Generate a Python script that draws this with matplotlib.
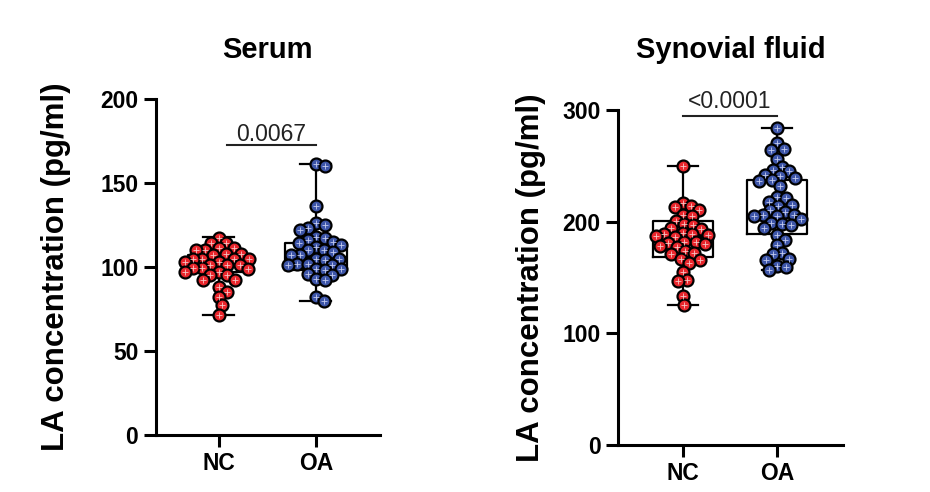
import numpy as np
import matplotlib
matplotlib.use("Agg")
import matplotlib.pyplot as plt

plt.rcParams['font.family'] = ['Liberation Sans', 'DejaVu Sans']

groups = ['NC', 'OA']

# LA concentration (pg/ml)
serum_nc = [117, 114, 114, 111, 111, 110, 110, 108, 108, 107, 105, 105, 105, 105, 103, 103,
            101, 101, 101, 99.6, 99.6, 99, 97.2, 97.2, 95.3, 95.3, 92.3, 92.3, 88, 85.3, 82.4,
            77.4, 71.5]
serum_oa = [161.5, 160, 136, 126, 125, 123, 122, 118, 117, 116, 115, 114, 113, 112, 110, 110,
            109, 107, 107, 105, 105, 104, 102, 102, 101, 101, 99, 99, 98, 96, 95, 93, 92, 82, 80]
sf_nc = [250, 217, 214, 213, 210, 206, 205, 201, 198, 197, 194, 193, 190, 189, 189, 188, 187,
         186, 182, 182, 181, 180, 178, 177, 174, 172, 171, 167, 166, 163, 155, 148, 147, 133, 125]
sf_oa = [284, 270, 265, 264, 256, 249, 246, 245, 242, 241, 239, 237, 236, 232, 222, 221, 218,
         215, 214, 210, 209, 206, 206, 205, 205, 202, 199, 198, 197, 194, 188, 184, 179, 172,
         171, 167, 166, 160, 159, 157]

# box stats (min, q1, median, q3, max) as drawn in the figure
serum_box = [(71.5, 97, 102, 107, 118), (80, 98, 106, 114, 161.5)]
sf_box = [(125, 168, 186, 201, 250), (157, 189, 206, 237, 284)]

serum_p = '0.0067'
sf_p = '<0.0001'

red = '#e8262c'
blue = '#3d55a8'

fig = plt.figure(figsize=(9.3, 4.92), dpi=100)


def swarm_offsets(ax, x0, vals, dist_px):
    # simple beeswarm in pixel space
    pts = ax.transData.transform(np.column_stack([np.full(len(vals), x0), vals]))
    order = np.argsort(vals)[::-1]
    placed = []
    xs = np.zeros(len(vals))
    for i in order:
        py = pts[i, 1]
        cands = [0.0]
        for (qx, qy) in placed:
            dy = py - qy
            if abs(dy) < dist_px:
                dx = np.sqrt(dist_px ** 2 - dy ** 2)
                cands += [qx + dx, qx - dx]
        cands = sorted(cands, key=abs)
        for c in cands:
            ok = True
            for (qx, qy) in placed:
                if (c - qx) ** 2 + (py - qy) ** 2 < dist_px ** 2 - 1e-6:
                    ok = False
                    break
            if ok:
                break
        placed.append((c, py))
        xs[i] = c
    # pixel -> data units
    px_per_x = ax.transData.transform((1, 0))[0] - ax.transData.transform((0, 0))[0]
    return x0 + xs / px_per_x


def panel(rect, xlim, ymax, yticks, data, boxes, p_text, p_x, p_y, p_dy, title, title_y, ylab_x):
    ax = fig.add_axes(rect)
    ax.set_xlim(*xlim)
    ax.set_ylim(0, ymax)
    ax.set_yticks(yticks)
    ax.set_xticks(range(len(groups)))
    ax.set_xticklabels(groups)
    for s in ['top', 'right']:
        ax.spines[s].set_visible(False)
    for s in ['left', 'bottom']:
        ax.spines[s].set_linewidth(2.2)
    ax.tick_params(length=8.5, width=2.2, labelsize=16.5, pad=4)
    for lab in ax.get_xticklabels() + ax.get_yticklabels():
        lab.set_fontweight('bold')

    stats = []
    for b in boxes:
        stats.append(dict(whislo=b[0], q1=b[1], med=b[2], q3=b[3], whishi=b[4], fliers=[]))
    ax.bxp(stats, positions=range(len(groups)), widths=0.64, showfliers=False,
           boxprops=dict(color='black', linewidth=1.6),
           medianprops=dict(color='black', linewidth=1.6),
           whiskerprops=dict(color='black', linewidth=1.6),
           capprops=dict(color='black', linewidth=1.6), capwidths=0.32,
           manage_ticks=False, zorder=2)

    for i, (vals, col, light) in enumerate(zip(data, [red, blue], ['#f6c4c4', '#c3cbef'])):
        xs = swarm_offsets(ax, i, vals, 9.0)
        ax.scatter(xs, vals, s=74, color=col, edgecolor='black', linewidth=1.6, zorder=3)
        ax.scatter(xs, vals, s=14, marker='+', color=light, linewidth=0.6, zorder=4)

    ax.plot(p_x, [p_y, p_y], color='#222222', lw=1.5)
    ax.text(np.mean(p_x), p_y + p_dy, p_text, ha='center', va='baseline',
            fontsize=16.5, color='#222222')

    bb = rect
    fig.text(bb[0] + bb[2] / 2, title_y, title, ha='center', va='baseline',
             fontsize=21, fontweight='bold')
    fig.text(ylab_x, bb[1] + bb[3] / 2, 'LA concentration (pg/ml)', rotation=90,
             ha='center', va='center', fontsize=22.5, fontweight='bold')
    return ax


panel([0.1674, 0.1159, 0.2412, 0.683], (-0.65, 1.66), 200, [0, 50, 100, 150, 200],
      [serum_nc, serum_oa], serum_box, serum_p, [0.08, 1.0], 172.6, 2.4,
      'Serum', 1 - 58 / 492, 56 / 930)
panel([0.6645, 0.0955, 0.242, 0.681], (-0.69, 1.70), 300, [0, 100, 200, 300],
      [sf_nc, sf_oa], sf_box, sf_p, [0.0, 1.0], 294.5, 7.0,
      'Synovial fluid', 1 - 58 / 492, 531 / 930)

fig.savefig('out.png', dpi=100)
